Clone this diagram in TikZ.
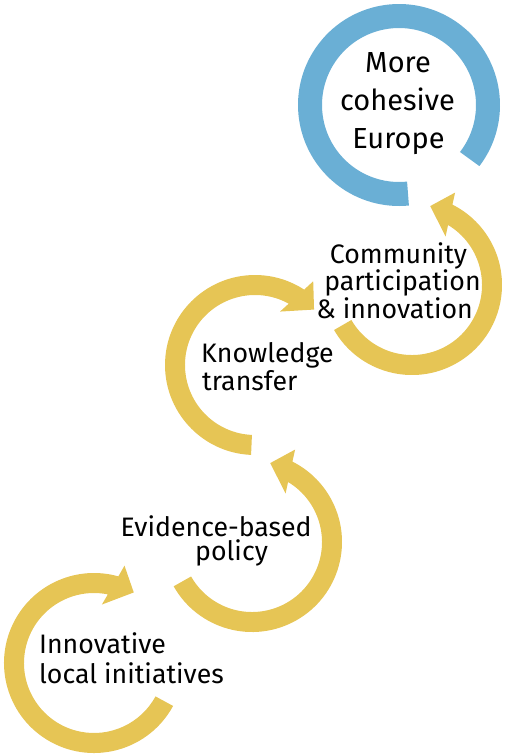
\documentclass[tikz,border=0pt]{standalone}
\usepackage{fontspec}
\setmainfont{Fira Sans}
\usetikzlibrary{calc}
\definecolor{ylw}{HTML}{E6C555}
\definecolor{blu}{HTML}{6AAFD5}
% #1 centre, #2 tail angle, #3 tip angle, #4 direction (1 or -1)
\newcommand{\circarrow}[4]{%
  \pgfmathsetmacro\angO{#3-(#4)*13.7}%
  \pgfmathsetmacro\angV{#3-(#4)*12}%
  \pgfmathsetmacro\angB{#3-(#4)*21.7}%
  \pgfmathsetmacro\angI{#3-(#4)*18}%
  \fill[arrowfill] ($(#1)+(#2:90)$) arc[start angle=#2, end angle=\angO, radius=90]
    -- ($(#1)+(\angV:102)$) -- ($(#1)+(#3:81)$) -- ($(#1)+(\angB:59)$)
    -- ($(#1)+(\angI:70)$) arc[start angle=\angI, end angle=#2, radius=70] -- cycle;
}
\begin{document}
\begin{tikzpicture}[x=1pt,y=-1pt,
  arrowfill/.style={fill=ylw},
  ring/.style={draw=blu, line width=24pt},
  lbl/.style={font=\fontsize{26.7}{30}\selectfont, inner sep=0pt, text=black},
  biglbl/.style={font=\fontsize{29}{32}\selectfont, inner sep=0pt, text=black}]
\useasboundingbox (0,0) rectangle (513,756);
\coordinate (c0) at (399,105);
\coordinate (c1) at (94,663);
\coordinate (c2) at (252,542);
\coordinate (c3) at (255,365);
\coordinate (c4) at (412,285);
% blue ring
\draw[ring] ($(c0)+(37.4:89)$) arc[start angle=37.4, end angle=-275.8, radius=89];
% yellow circular arrows
\circarrow{c1}{28.5}{299.4}{1}
\circarrow{c2}{150.5}{-77}{-1}
\circarrow{c3}{92.5}{316.8}{1}
\circarrow{c4}{150}{-77}{-1}
% labels
\node[biglbl, anchor=base] (t01) at (398,72) {More};
\node[biglbl, anchor=base] (t02) at (397.5,110) {cohesive};
\node[biglbl, anchor=base] (t03) at (398.5,148) {Europe};
\node[lbl, anchor=base] (t41) at (398.5,263) {Community};
\node[lbl, anchor=base] (t42) at (402.5,290.5) {participation};
\node[lbl, anchor=base] (t43) at (394.5,318) {\& innovation};
\node[lbl, anchor=base west] (t31) at (201,362) {Knowledge};
\node[lbl, anchor=base west] (t32) at (202,390) {transfer};
\node[font=\fontsize{26.7}{23.5}\selectfont, inner sep=0pt, text=black,
      align=left, anchor=base west] (t21) at (120.5,560)
      {Evidence-based\\\hspace*{74.5pt}policy};
\node[lbl, anchor=base west] (t11) at (39,653) {Innovative};
\node[lbl, anchor=base west] (t12) at (39,683) {local initiatives};
\end{tikzpicture}
\end{document}
